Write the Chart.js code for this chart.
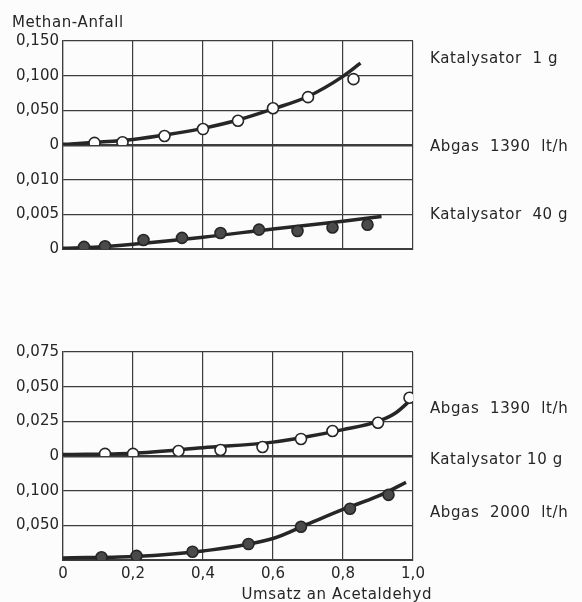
<!DOCTYPE html>
<html>
<head>
<meta charset="utf-8">
<script src="https://cdn.jsdelivr.net/npm/chart.js@4.4.1/dist/chart.umd.min.js"></script>
<style>
body { margin: 0; background: #fcfcfc; }
canvas { position: absolute; left: 0; }
#topChart { top: 0; }
#bottomChart { top: 270px; }
</style>
</head>
<body>
<canvas id="topChart" width="582" height="270"></canvas>
<canvas id="bottomChart" width="582" height="332"></canvas>
<script>
// Katalysator 1 g (open circles) + fitted curve
var kat1X = [0.09, 0.17, 0.29, 0.40, 0.50, 0.60, 0.70, 0.83];
var kat1Y = [0.003, 0.004, 0.013, 0.023, 0.035, 0.053, 0.069, 0.095];
var kat1FitX = [0, 0.1, 0.2, 0.3, 0.4, 0.5, 0.6, 0.7, 0.8, 0.85];
var kat1FitY = [0.001, 0.004, 0.008, 0.015, 0.024, 0.036, 0.052, 0.070, 0.099, 0.118];

// Katalysator 40 g (filled circles)
var kat40X = [0.06, 0.12, 0.23, 0.34, 0.45, 0.56, 0.67, 0.77, 0.87];
var kat40Y = [0.0003, 0.0004, 0.0013, 0.0016, 0.0023, 0.0028, 0.0026, 0.0031, 0.0035];
var kat40FitX = [0, 0.1, 0.2, 0.4, 0.6, 0.8, 0.91];
var kat40FitY = [0.0001, 0.0003, 0.0007, 0.0017, 0.0029, 0.0040, 0.0047];

// Abgas 1390 lt/h, Katalysator 10 g (open circles)
var gas1390X = [0.12, 0.20, 0.33, 0.45, 0.57, 0.68, 0.77, 0.90, 0.99];
var gas1390Y = [0.0015, 0.0015, 0.0036, 0.0043, 0.0065, 0.0123, 0.018, 0.024, 0.042];
var gas1390FitX = [0, 0.2, 0.4, 0.6, 0.7, 0.8, 0.9, 0.95, 1.0];
var gas1390FitY = [0.001, 0.002, 0.006, 0.010, 0.014, 0.019, 0.025, 0.031, 0.042];

// Abgas 2000 lt/h (filled circles)
var gas2000X = [0.11, 0.21, 0.37, 0.53, 0.68, 0.82, 0.93];
var gas2000Y = [0.004, 0.006, 0.012, 0.023, 0.048, 0.074, 0.094];
var gas2000FitX = [0, 0.2, 0.4, 0.6, 0.7, 0.8, 0.9, 0.98];
var gas2000FitY = [0.003, 0.005, 0.013, 0.031, 0.052, 0.073, 0.092, 0.112];

var xTicks = [0, 0.2, 0.4, 0.6, 0.8, 1.0];

var ink = '#262626';
var gridInk = '#3c3c3c';
var fontFamily = '"DejaVu Sans", sans-serif';

Chart.defaults.font.family = fontFamily;
Chart.defaults.font.size = 15;
Chart.defaults.color = ink;

function toPoints(xs, ys) {
	var pts = [];
	for (var i = 0; i < xs.length; ++i) {
		pts.push({x: xs[i], y: ys[i]});
	}
	return pts;
}

function curve(xs, ys, axis) {
	return {
		data: toPoints(xs, ys),
		yAxisID: axis,
		showLine: true,
		borderColor: ink,
		borderWidth: 3.5,
		pointRadius: 0,
		cubicInterpolationMode: 'monotone',
		order: 2
	};
}

function marks(xs, ys, axis, open) {
	return {
		data: toPoints(xs, ys),
		yAxisID: axis,
		showLine: false,
		pointRadius: 5.5,
		pointBorderWidth: 1.6,
		pointBorderColor: ink,
		pointBackgroundColor: open ? '#ffffff' : '#4a4a4a',
		order: 1
	};
}

function decimalComma(v) {
	if (Math.abs(v) < 1e-9) return '0';
	return v.toFixed(3).replace('.', ',');
}

// y axis for one panel; hidden lists tick values that get no label
function panelAxis(max, step, hidden, thickZero) {
	return {
		type: 'linear',
		position: 'left',
		stack: 'panels',
		stackWeight: 1,
		min: 0,
		max: max,
		afterFit: function(scale) { scale.width = 63; },
		ticks: {
			stepSize: step,
			autoSkip: false,
			padding: 4,
			callback: function(v) {
				for (var i = 0; i < hidden.length; ++i) {
					if (Math.abs(v - hidden[i]) < step / 100) return '';
				}
				return decimalComma(v);
			}
		},
		grid: {
			color: gridInk,
			drawTicks: false,
			lineWidth: function(c) {
				return (thickZero && c.tick && Math.abs(c.tick.value) < 1e-9) ? 2.5 : 1.2;
			}
		},
		border: { color: gridInk, width: 1.2 }
	};
}

function xAxis(showLabels, height) {
	return {
		type: 'linear',
		min: 0,
		max: 1,
		afterBuildTicks: function(scale) {
			scale.ticks = xTicks.map(function(v) { return {value: v}; });
		},
		afterFit: function(scale) { scale.height = height; },
		ticks: {
			display: showLabels,
			autoSkip: false,
			padding: 5,
			maxRotation: 0,
			callback: function(v) { return v === 0 ? '0' : v.toFixed(1).replace('.', ','); }
		},
		grid: { color: gridInk, lineWidth: 1.2, drawTicks: false },
		border: { color: gridInk, width: 2 }
	};
}

var textLayer = {
	id: 'textLayer',
	afterDraw: function(chart, args, opts) {
		var ctx = chart.ctx;
		var area = chart.chartArea;
		ctx.save();
		ctx.fillStyle = ink;
		ctx.font = '15px ' + fontFamily;
		ctx.letterSpacing = '0.6px';
		ctx.textBaseline = 'middle';
		(opts.side || []).forEach(function(it) {
			var y = chart.scales[it.axis].getPixelForValue(it.value);
			ctx.fillText(it.text, area.right + 17, y + 2);
		});
		ctx.textBaseline = 'alphabetic';
		if (opts.yTitle) {
			ctx.textAlign = 'left';
			ctx.fillText(opts.yTitle, area.left - 51, area.top - 14);
		}
		if (opts.xTitle) {
			ctx.textAlign = 'right';
			ctx.fillText(opts.xTitle, area.right + 19, area.bottom + 39);
		}
		ctx.restore();
	}
};

function baseOptions(top, bottomAxisHeight, showLabels) {
	return {
		responsive: false,
		animation: false,
		events: [],
		layout: { padding: { top: top, right: 169, left: 0, bottom: 0 } },
		plugins: { legend: { display: false }, tooltip: { enabled: false } },
		scales: { x: xAxis(showLabels, bottomAxisHeight) }
	};
}

// stacked axes are laid out bottom panel first
var topOptions = baseOptions(41, 21, false);
topOptions.scales.y2 = panelAxis(0.015, 0.005, [0.015], false);
topOptions.scales.y1 = panelAxis(0.15, 0.05, [], true);
topOptions.plugins.textLayer = {
	yTitle: 'Methan-Anfall',
	side: [
		{text: 'Katalysator  1 g', axis: 'y1', value: 0.127},
		{text: 'Abgas  1390  lt/h', axis: 'y1', value: 0},
		{text: 'Katalysator  40 g', axis: 'y2', value: 0.0052}
	]
};

new Chart(document.getElementById('topChart'), {
	type: 'scatter',
	data: {
		datasets: [
			curve(kat1FitX, kat1FitY, 'y1'),
			marks(kat1X, kat1Y, 'y1', true),
			curve(kat40FitX, kat40FitY, 'y2'),
			marks(kat40X, kat40Y, 'y2', false)
		]
	},
	options: topOptions,
	plugins: [textLayer]
});

var bottomOptions = baseOptions(82, 42, true);
bottomOptions.scales.y4 = panelAxis(0.15, 0.05, [0.15, 0], false);
bottomOptions.scales.y3 = panelAxis(0.075, 0.025, [], true);
bottomOptions.plugins.textLayer = {
	xTitle: 'Umsatz an Acetaldehyd',
	side: [
		{text: 'Abgas  1390  lt/h', axis: 'y3', value: 0.035},
		{text: 'Katalysator 10 g', axis: 'y4', value: 0.147},
		{text: 'Abgas  2000  lt/h', axis: 'y4', value: 0.070}
	]
};

new Chart(document.getElementById('bottomChart'), {
	type: 'scatter',
	data: {
		datasets: [
			curve(gas1390FitX, gas1390FitY, 'y3'),
			marks(gas1390X, gas1390Y, 'y3', true),
			curve(gas2000FitX, gas2000FitY, 'y4'),
			marks(gas2000X, gas2000Y, 'y4', false)
		]
	},
	options: bottomOptions,
	plugins: [textLayer]
});
</script>
</body>
</html>
